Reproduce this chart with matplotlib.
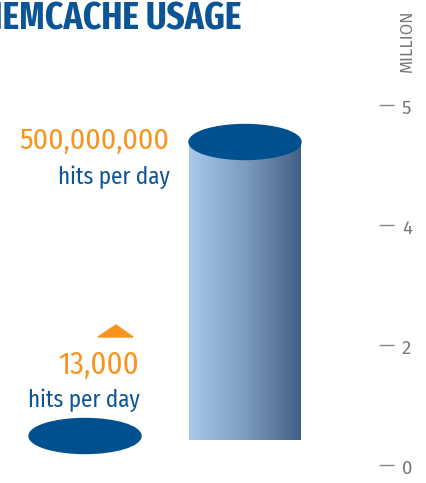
import numpy as np
import matplotlib.pyplot as plt
import matplotlib.transforms as mtransforms
from matplotlib.patches import Ellipse, Polygon
from matplotlib.colors import LinearSegmentedColormap

# data
labels = ["13,000", "500,000,000"]
hits_per_day = [13000, 500000000]
unit_text = "hits per day"
tick_labels = ["0", "2", "4", "5"]
title = "MEMCACHE USAGE"
axis_unit = "MILLION"

ORANGE = "#f7941e"
BLUE = "#0b5596"
DARK = "#00508f"
GRAY = "#7a7a7a"

W, H = 427, 483
fig = plt.figure(figsize=(W / 100, H / 100), dpi=100)
ax = fig.add_axes([0, 0, 1, 1])
ax.set_axis_off()

cond = ["Fira Sans Condensed", "DejaVu Sans"]
xcond = ["Fira Sans Extra Condensed", "Fira Sans Condensed", "DejaVu Sans"]
plain = ["Fira Sans", "Liberation Sans", "DejaVu Sans"]

# vertical scale: base of cylinder at 440px, biggest value at 142px
px_base, px_top = 440, 142
scale = max(hits_per_day) / (px_base - px_top)
ymin = -(H - px_base) * scale
ymax = px_base * scale

xc = [85, 245]          # centres of the two shapes
ew = 112                # ellipse width
eh = 35 * scale         # ellipse height in value units

# cylinder body with gradient
big = hits_per_day[1]
cmap = LinearSegmentedColormap.from_list("cyl", ["#a6c9ec", "#7c9cc0", "#445f84"])
grad = np.linspace(0, 1, 256).reshape(1, -1)
ax.imshow(grad, cmap=cmap, aspect="auto",
          extent=(xc[1] - ew / 2, xc[1] + ew / 2, 0, big), zorder=1)
ax.add_patch(Ellipse((xc[1], big), ew, eh, color=DARK, zorder=2))

# small value: just the disc
small = hits_per_day[0]
ax.add_patch(Ellipse((xc[0], small + 4 * scale), ew, eh, color=DARK, zorder=2))

ax.set_xlim(0, W)
ax.set_ylim(ymin, ymax)

texts = []
# labels for the big one
t = ax.annotate(labels[1], (169, big), xytext=(0, 1), textcoords="offset points",
                ha="right", va="center", fontsize=24, color=ORANGE, family=cond)
texts.append((t, 151))
t = ax.annotate(unit_text, (170, big), xytext=(0, -25), textcoords="offset points",
                ha="right", va="center", fontsize=19, color=BLUE, family=cond)
texts.append((t, 112))

# labels for the small one
t = ax.annotate(labels[0], (139, small), xytext=(0, 54), textcoords="offset points",
                ha="right", va="center", fontsize=24, color=ORANGE, family=cond)
texts.append((t, 81))
t = ax.annotate(unit_text, (140, small), xytext=(0, 29), textcoords="offset points",
                ha="right", va="center", fontsize=19, color=BLUE, family=cond)
texts.append((t, 112))

# little orange arrow head
ty = small + (440 - 337) * scale
tri = Polygon([[98, ty], [133, ty], [116, ty + 12 * scale]], closed=True,
              color=ORANGE, zorder=3)
ax.add_patch(tri)

# title (left part runs off the canvas, as in the original)
t = ax.text(241, ymax - 19 * scale, title, ha="right", va="center",
            fontsize=27, fontweight="bold", color=BLUE, family=xcond)
texts.append((t, 264))

# right-hand scale
ax2 = fig.add_axes([0, 0, 379 / W, 1])
ax2.patch.set_visible(False)
for s in ax2.spines.values():
    s.set_visible(False)
ax2.set_xticks([])
ax2.yaxis.tick_right()
ax2.set_ylim(-(H - 465) / 120, 465 / 120)
ax2.set_yticks(range(len(tick_labels)))
ax2.set_yticklabels(tick_labels)
ax2.tick_params(axis="y", direction="out", length=10.5, width=1.0, pad=6,
                color="#888888", labelcolor=GRAY, labelsize=13.5)
shift = mtransforms.ScaledTranslation(0, -2 / 100, fig.dpi_scale_trans)
for lab in ax2.get_yticklabels():
    lab.set_family(plain)
    lab.set_transform(lab.get_transform() + shift)

fig.text(407 / W, 1 - 41 / H, axis_unit, rotation=90, ha="center", va="center",
         fontsize=12, color=GRAY, family=plain)

# squeeze or grow the condensed labels so their widths match the original
fig.canvas.draw()
r = fig.canvas.get_renderer()
for t, target in texts:
    w = t.get_window_extent(r).width
    t.set_fontsize(t.get_fontsize() * target / w)

fig.savefig("out.png", dpi=100)
